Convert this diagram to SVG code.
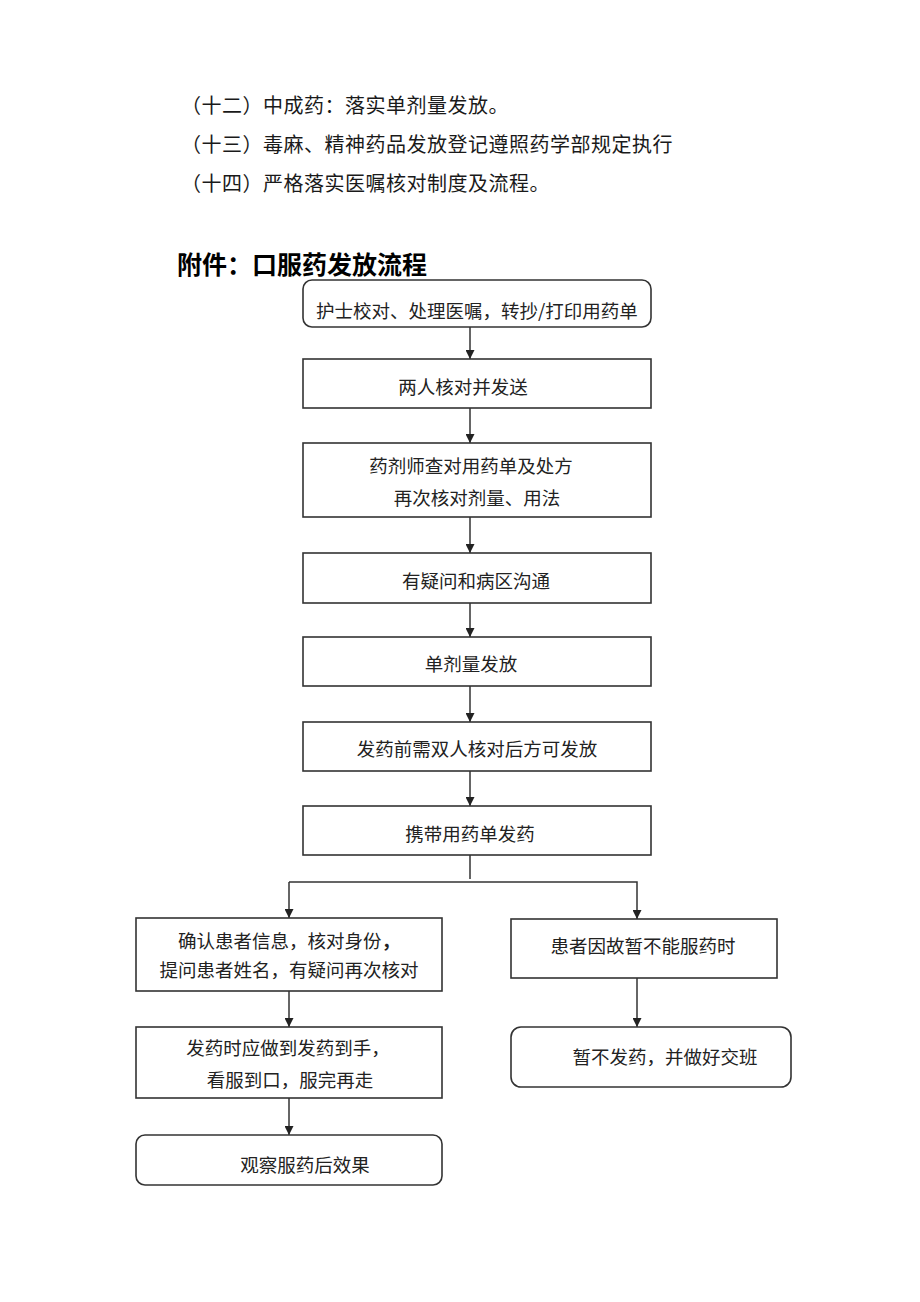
<svg xmlns="http://www.w3.org/2000/svg" width="920" height="1302" viewBox="0 0 920 1302">
<defs>
<style>
.t{font-family:"Noto Sans CJK SC","Liberation Sans",sans-serif;fill:#1a1a1a;}
.p{font-size:20px;letter-spacing:0.5px;}
.h{font-size:25px;font-weight:bold;fill:#000;}
.n{font-size:18.5px;text-anchor:middle;fill:#222;}
.b{fill:#fff;stroke:#333;stroke-width:1.6;}
.c{fill:none;stroke:#333;stroke-width:1.5;}
</style>
<marker id="ah" viewBox="0 0 10 10" refX="10" refY="5" markerWidth="9" markerHeight="9" markerUnits="userSpaceOnUse" orient="auto">
<path d="M0,0 L10,5 L0,10 z" fill="#222"/>
</marker>
</defs>
<rect width="920" height="1302" fill="#fff"/>
<g id="intro">
<text class="t p" x="181" y="113">（十二）中成药：落实单剂量发放。</text>
<text class="t p" x="181" y="152">（十三）毒麻、精神药品发放登记遵照药学部规定执行</text>
<text class="t p" x="181" y="191">（十四）严格落实医嘱核对制度及流程。</text>
<text class="t h" x="177" y="274">附件：口服药发放流程</text>
</g>
<g id="connectors">
<line class="c" x1="470" y1="327" x2="470" y2="359" marker-end="url(#ah)"/>
<line class="c" x1="470" y1="408" x2="470" y2="443" marker-end="url(#ah)"/>
<line class="c" x1="470" y1="517" x2="470" y2="553" marker-end="url(#ah)"/>
<line class="c" x1="470" y1="603" x2="470" y2="637" marker-end="url(#ah)"/>
<line class="c" x1="470" y1="686" x2="470" y2="722" marker-end="url(#ah)"/>
<line class="c" x1="470" y1="771" x2="470" y2="806" marker-end="url(#ah)"/>
<line class="c" x1="470" y1="855" x2="470" y2="879"/>
<polyline class="c" points="289,882 637,882 637,919" marker-end="url(#ah)"/>
<line class="c" x1="289" y1="882" x2="289" y2="918" marker-end="url(#ah)"/>
<line class="c" x1="289" y1="991" x2="289" y2="1027" marker-end="url(#ah)"/>
<line class="c" x1="289" y1="1098" x2="289" y2="1135" marker-end="url(#ah)"/>
<line class="c" x1="637" y1="978" x2="637" y2="1027" marker-end="url(#ah)"/>
</g>
<g id="n1"><rect class="b" x="303" y="280" width="348" height="47" rx="9"/><text class="t n" x="477" y="318">护士校对、处理医嘱，转抄/打印用药单</text></g>
<g id="n2"><rect class="b" x="303" y="359" width="348" height="49"/><text class="t n" x="463" y="394">两人核对并发送</text></g>
<g id="n3"><rect class="b" x="303" y="443" width="348" height="74"/><text class="t n" x="471" y="473">药剂师查对用药单及处方</text><text class="t n" x="477" y="505">再次核对剂量、用法</text></g>
<g id="n4"><rect class="b" x="303" y="553" width="348" height="50"/><text class="t n" x="476" y="588">有疑问和病区沟通</text></g>
<g id="n5"><rect class="b" x="303" y="637" width="348" height="49"/><text class="t n" x="471" y="671">单剂量发放</text></g>
<g id="n6"><rect class="b" x="303" y="722" width="348" height="49"/><text class="t n" x="477" y="756">发药前需双人核对后方可发放</text></g>
<g id="n7"><rect class="b" x="303" y="806" width="348" height="49"/><text class="t n" x="470" y="841">携带用药单发药</text></g>
<g id="n8"><rect class="b" x="136" y="918" width="306" height="73"/><text class="t n" x="289" y="948">确认患者信息，核对身份<tspan font-weight="bold">，</tspan></text><text class="t n" x="289" y="977">提问患者姓名，有疑问再次核对</text></g>
<g id="n9"><rect class="b" x="136" y="1027" width="306" height="71"/><text class="t n" x="288" y="1055">发药时应做到发药到手，</text><text class="t n" x="290" y="1087">看服到口，服完再走</text></g>
<g id="n10"><rect class="b" x="136" y="1135" width="306" height="50" rx="9"/><text class="t n" x="305" y="1172">观察服药后效果</text></g>
<g id="n11"><rect class="b" x="511" y="919" width="266" height="59"/><text class="t n" x="643" y="953">患者因故暂不能服药时</text></g>
<g id="n12"><rect class="b" x="511" y="1027" width="280" height="60" rx="10"/><text class="t n" x="665" y="1064">暂不发药，并做好交班</text></g>
</svg>
